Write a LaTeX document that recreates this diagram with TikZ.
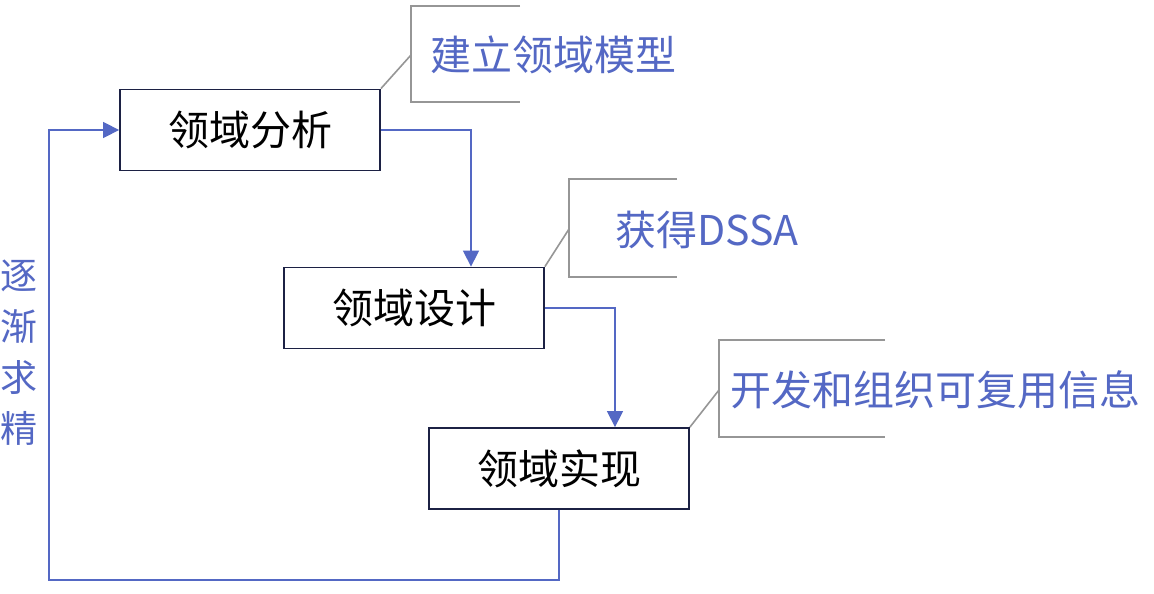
\documentclass[tikz,border=0pt]{standalone}
\usepackage{fontspec}
\setmainfont{Noto Sans CJK SC}
\usetikzlibrary{arrows.meta}
\definecolor{flowblue}{RGB}{84,104,196}
\definecolor{boxline}{RGB}{28,33,68}
\definecolor{calloutgray}{RGB}{150,150,150}
\tikzset{
  stagebox/.style={draw=boxline, line width=1.8pt, rectangle, minimum width=260pt, minimum height=81pt, inner sep=0pt, font=\fontsize{41}{46}\selectfont},
  flowline/.style={draw=flowblue, line width=1.4pt},
  flowarr/.style={flowline, -{Triangle[length=16pt,width=16pt]}},
  calloutline/.style={draw=calloutgray, line width=1.6pt},
  callouttext/.style={anchor=west, inner sep=0pt, text=flowblue, font=\fontsize{41}{46}\selectfont},
}
\begin{document}
\begin{tikzpicture}[x=1pt,y=-1pt]
\useasboundingbox[fill=white] (0,0) rectangle (1154,594);
% stage boxes
\node[stagebox] (b1) at (250,130) {领域分析};
\node[stagebox] (b2) at (414,308) {领域设计};
\node[stagebox] (b3) at (559,468.5) {领域实现};
% helper coordinates
\coordinate (k1) at (471,0);
\coordinate (k2) at (615,0);
\coordinate (lp) at (49,580);
% flow connectors
\draw[flowarr] (b1.east) -| (k1 |- b2.north);
\draw[flowarr] (b2.east) -| (k2 |- b3.north);
\draw[flowarr] (b3.south) |- (lp) |- (b1.west);
% refinement label
\node[inner sep=0pt, align=center, text=flowblue, font=\fontsize{37}{51}\selectfont] (refine) at (19,353) {逐\\渐\\求\\精};
% callout 1
\coordinate (c1a) at (411,55);
\draw[calloutline] (b1.north east) -- (c1a);
\draw[calloutline] (520,6) -- (411,6) -- (411,102) -- (520,102);
\node[callouttext] (t1) at (430,55) {建立领域模型};
% callout 2
\coordinate (c2a) at (569,229);
\draw[calloutline] (b2.north east) -- (c2a);
\draw[calloutline] (677,179) -- (569,179) -- (569,277) -- (677,277);
\node[callouttext] (t2) at (615,230) {获得DSSA};
% callout 3
\coordinate (c3a) at (719,390);
\draw[calloutline] (b3.north east) -- (c3a);
\draw[calloutline] (885,340) -- (719,340) -- (719,437) -- (885,437);
\node[callouttext] (t3) at (730,390) {开发和组织可复用信息};
\end{tikzpicture}
\end{document}
